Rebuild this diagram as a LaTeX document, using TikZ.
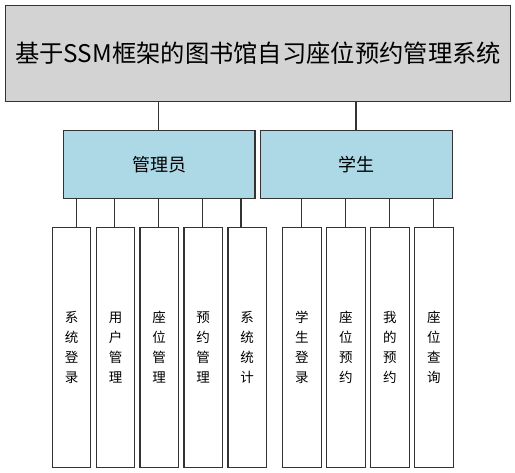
\documentclass[tikz,border=0pt]{standalone}
\usepackage{fontspec}
\setmainfont{Noto Sans CJK SC}
\definecolor{linec}{HTML}{333333}
\definecolor{titlefill}{HTML}{D3D3D3}
\definecolor{midfill}{HTML}{ADD8E6}
\tikzset{
  box/.style={draw=linec, line width=1.2pt, inner sep=0pt, anchor=north west},
  titlebox/.style={box, fill=titlefill, font=\fontsize{24.3}{28}\selectfont},
  midbox/.style={box, fill=midfill, font=\fontsize{18}{21}\selectfont},
  leafbox/.style={box, fill=white, align=center, font=\fontsize{13.5}{20}\selectfont},
  conn/.style={draw=linec, line width=1.2pt},
}
\begin{document}
\begin{tikzpicture}[x=1pt,y=-1pt]
\useasboundingbox (0,0) rectangle (515,473);
% title
\node[titlebox, minimum width=505pt, minimum height=96pt] (title) at (5,5) {基于SSM框架的图书馆自习座位预约管理系统};
% middle
\node[midbox, minimum width=191.6pt, minimum height=67.7pt] (admin) at (62.7,130) {管理员};
\node[midbox, minimum width=192pt, minimum height=67.7pt] (stu) at (260,130) {学生};
% leaves
\foreach \n/\x/\t in {a1/51.7/{系\\统\\登\\录}, a2/95.7/{用\\户\\管\\理}, a3/139.3/{座\\位\\管\\理}, a4/183.3/{预\\约\\管\\理}, a5/227.3/{系\\统\\统\\计},
  s1/282/{学\\生\\登\\录}, s2/326/{座\\位\\预\\约}, s3/370/{我\\的\\预\\约}, s4/414/{座\\位\\查\\询}}
  \node[leafbox, minimum width=38.5pt, minimum height=239.4pt] (\n) at (\x,227.3) {\t};
% connectors
\coordinate (t1) at (158.7,101);
\coordinate (t2) at (356,101);
\draw[conn] (t1) -- (t1 |- admin.north);
\draw[conn] (t2) -- (t2 |- stu.north);
\foreach \n/\x in {a1/76.7, a2/114.7, a3/158.3, a4/202.7, a5/241}
  \draw[conn] (\x,197.7) -- (\x,227.3);
\foreach \n in {s1,s2,s3,s4}
  \draw[conn] (\n.north |- stu.south) -- (\n.north);
\end{tikzpicture}
\end{document}
